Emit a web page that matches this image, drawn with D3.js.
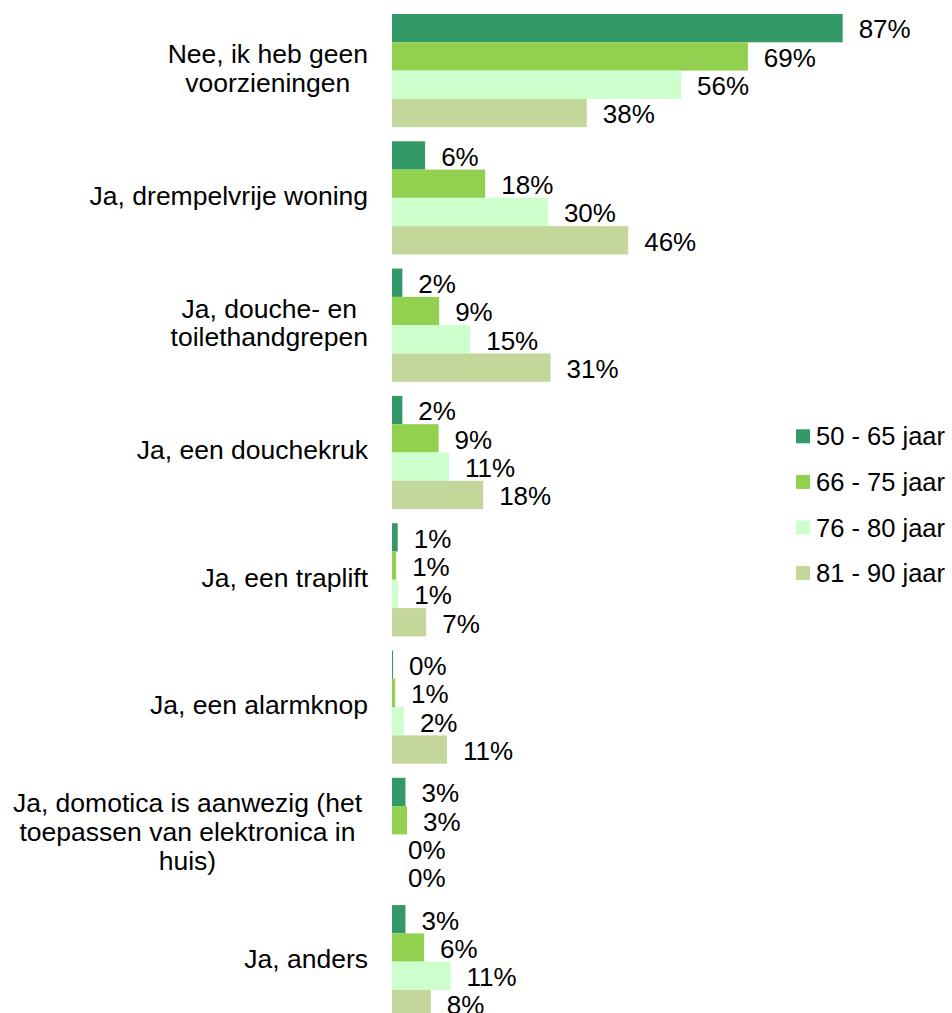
<!DOCTYPE html>
<html>
<head>
<meta charset="utf-8">
<script src="https://cdn.jsdelivr.net/npm/d3@7"></script>
<style>
  html, body { margin: 0; padding: 0; background: #ffffff; }
  svg { display: block; }
  text { font-family: "Liberation Sans", Arial, sans-serif; fill: #000; }
</style>
</head>
<body>
<svg id="chart" width="952" height="1013"></svg>
<script>
// ---- data ----
const categories = [
  ["Nee, ik heb geen", "voorzieningen"],
  ["Ja, drempelvrije woning"],
  ["Ja, douche- en", "toilethandgrepen"],
  ["Ja, een douchekruk"],
  ["Ja, een traplift"],
  ["Ja, een alarmknop"],
  ["Ja, domotica is aanwezig (het", "toepassen van elektronica in", "huis)"],
  ["Ja, anders"]
];
const seriesNames = ["50 - 65 jaar", "66 - 75 jaar", "76 - 80 jaar", "81 - 90 jaar"];
const seriesColors = ["#339966", "#92D050", "#CCFFCC", "#C4D79B"];
const age50_65 = [87.0, 6.4, 2.0, 2.0, 1.1, 0.2, 2.6, 2.6];
const age66_75 = [68.7, 18.0, 9.1, 9.0, 0.8, 0.6, 2.9, 6.2];
const age76_80 = [55.8, 30.1, 15.1, 11.0, 1.2, 2.3, 0.0, 11.3];
const age81_90 = [37.6, 45.6, 30.6, 17.6, 6.6, 10.6, 0.0, 7.5];
const seriesValues = [age50_65, age66_75, age76_80, age81_90];

// ---- layout ----
const svg = d3.select("#chart");
const valueFont = 26;
const catFont = 26.5;
const legendFont = 25.5;
const x = d3.scaleLinear().domain([0, 100]).range([392, 910]);
const y = d3.scaleBand()
  .domain(d3.range(categories.length))
  .range([6.93, 1025.33])
  .paddingInner(0.111)
  .paddingOuter(0.0555);
const ySub = d3.scaleBand().domain(d3.range(seriesNames.length)).range([0, y.bandwidth()]).padding(0);

const groups = svg.append("g").selectAll("g")
  .data(categories)
  .join("g")
  .attr("transform", (d, i) => `translate(0,${y(i)})`);

groups.each(function(cat, ci) {
  const g = d3.select(this);
  seriesValues.forEach((vals, si) => {
    const v = vals[ci];
    g.append("rect")
      .attr("x", x(0))
      .attr("y", ySub(si))
      .attr("width", x(v) - x(0))
      .attr("height", ySub.bandwidth())
      .attr("fill", seriesColors[si]);
    g.append("text")
      .attr("x", x(v) + 16)
      .attr("y", ySub(si) + ySub.bandwidth() / 2 + 10.3)
      .attr("font-size", valueFont)
      .text(Math.round(v) + "%");
  });
});

// category labels
const labelRight = 368;
const lineH = 28.7;
groups.each(function(lines, ci) {
  const g = d3.select(this);
  const cy = y.bandwidth() / 2;
  if (lines.length === 1) {
    g.append("text")
      .attr("x", labelRight)
      .attr("y", cy + 6.8)
      .attr("text-anchor", "end")
      .attr("font-size", catFont)
      .text(lines[0]);
  } else {
    const t = g.append("text")
      .attr("font-size", catFont)
      .attr("text-anchor", "middle");
    const spans = lines.map((l, li) => t.append("tspan")
      .attr("y", cy + 6.8 - (lines.length - 1) * lineH / 2 + li * lineH)
      .text(l));
    let maxW = 0;
    spans.forEach(s => { maxW = Math.max(maxW, s.node().getComputedTextLength()); });
    spans.forEach(s => s.attr("x", labelRight - maxW / 2 + (lines.length > 2 ? -6 : 0)));
  }
});

// legend
const legend = svg.append("g");
seriesNames.forEach((name, i) => {
  const ly = 429.3 + i * 45.6;
  legend.append("rect")
    .attr("x", 796).attr("y", ly).attr("width", 14).attr("height", 14)
    .attr("fill", seriesColors[i]);
  legend.append("text")
    .attr("x", 816).attr("y", ly + 7 + 9)
    .attr("font-size", legendFont)
    .text(name);
});
</script>
</body>
</html>
